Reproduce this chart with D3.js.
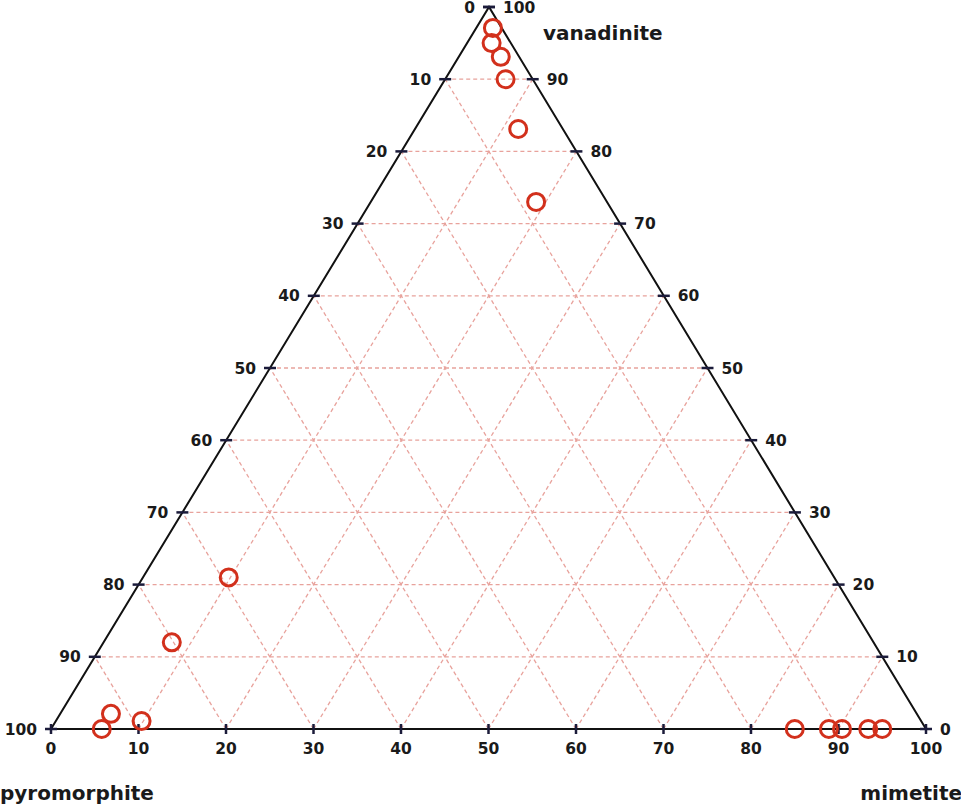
<!DOCTYPE html>
<html>
<head>
<meta charset="utf-8">
<script src="https://cdn.jsdelivr.net/npm/d3@7"></script>
<style>
  body { margin: 0; background: #fff; }
  text { font-family: "DejaVu Sans", Verdana, sans-serif; font-weight: bold; fill: #1a1a1a; }
</style>
</head>
<body>
<div id="chart"></div>
<script>
// mimetite %, vanadinite % (pyromorphite is the rest)
const mimetite   = [1.9, 2.8, 4.8, 6.9, 11.8, 18.9, 9.8, 7.8, 5.8, 5.8, 9.8, 85.0, 88.9, 90.4, 93.4, 95.0];
const vanadinite = [97.1, 95.0, 93.1, 90.0, 83.1, 73.0, 21.0, 12.0, 2.1, 0, 1.1, 0, 0, 0, 0, 0];
const tickValues = [0, 10, 20, 30, 40, 50, 60, 70, 80, 90, 100];
const axisNames = ['pyromorphite', 'mimetite', 'vanadinite'];

const W = 961, H = 805;
const A = [51, 729], B = [926, 729], C = [489, 7]; // pyromorphite, mimetite, vanadinite corners

const svg = d3.select('#chart').append('svg')
  .attr('width', W).attr('height', H);

// scales along the triangle
const xBase = d3.scaleLinear().domain([0, 100]).range([A[0], B[0]]);
const yV = d3.scaleLinear().domain([0, 100]).range([A[1], C[1]]);
const xShift = d3.scaleLinear().domain([0, 100]).range([0, C[0] - A[0]]);

function pos(m, v) {
  return [xBase(m) + xShift(v), yV(v)];
}

// grid
const grid = svg.append('g')
  .attr('stroke', '#e8a29c')
  .attr('stroke-width', 1.3)
  .attr('stroke-dasharray', '4,3')
  .attr('fill', 'none');
const inner = tickValues.slice(1, -1);
inner.forEach(t => {
  // constant vanadinite
  let p1 = pos(0, t), p2 = pos(100 - t, t);
  grid.append('line').attr('x1', p1[0]).attr('y1', p1[1]).attr('x2', p2[0]).attr('y2', p2[1]);
  // constant mimetite
  p1 = pos(t, 0); p2 = pos(t, 100 - t);
  grid.append('line').attr('x1', p1[0]).attr('y1', p1[1]).attr('x2', p2[0]).attr('y2', p2[1]);
  // constant pyromorphite
  p1 = pos(100 - t, 0); p2 = pos(0, 100 - t);
  grid.append('line').attr('x1', p1[0]).attr('y1', p1[1]).attr('x2', p2[0]).attr('y2', p2[1]);
});

// triangle outline
svg.append('path')
  .attr('d', d3.line()([A, B, C, A]) + 'Z')
  .attr('fill', 'none')
  .attr('stroke', '#111')
  .attr('stroke-width', 2);

// ticks and labels
const ticks = svg.append('g').attr('stroke', '#1b1b3a').attr('stroke-width', 2.5);
const labels = svg.append('g').attr('font-size', 15.5);

tickValues.forEach(t => {
  // bottom axis (mimetite)
  let p = pos(t, 0);
  ticks.append('line').attr('x1', p[0]).attr('x2', p[0]).attr('y1', p[1] - 5).attr('y2', p[1] + 5);
  labels.append('text').attr('x', p[0]).attr('y', p[1] + 25)
    .attr('text-anchor', 'middle').text(t);

  // left axis (pyromorphite, 0 at top)
  p = pos(0, 100 - t);
  ticks.append('line').attr('x1', p[0] - 6).attr('x2', p[0] + 6).attr('y1', p[1]).attr('y2', p[1]);
  labels.append('text').attr('x', p[0] - 14).attr('y', p[1] + 5.5)
    .attr('text-anchor', 'end').text(t);

  // right axis (vanadinite)
  p = pos(100 - t, t);
  ticks.append('line').attr('x1', p[0] - 6).attr('x2', p[0] + 6).attr('y1', p[1]).attr('y2', p[1]);
  labels.append('text').attr('x', p[0] + 14).attr('y', p[1] + 5.5)
    .attr('text-anchor', 'start').text(t);
});

// corner names
svg.append('text').attr('x', 0).attr('y', 800).attr('font-size', 20).text(axisNames[0]);
svg.append('text').attr('x', 962).attr('y', 800).attr('font-size', 20).attr('text-anchor', 'end').text(axisNames[1]);
svg.append('text').attr('x', 543).attr('y', 40).attr('font-size', 20).text(axisNames[2]);

// points
svg.append('g').selectAll('circle')
  .data(mimetite.map((m, i) => pos(m, vanadinite[i])))
  .enter().append('circle')
  .attr('cx', d => d[0])
  .attr('cy', d => d[1])
  .attr('r', 8.5)
  .attr('fill', 'none')
  .attr('stroke', '#d2301c')
  .attr('stroke-width', 3);
</script>
</body>
</html>
